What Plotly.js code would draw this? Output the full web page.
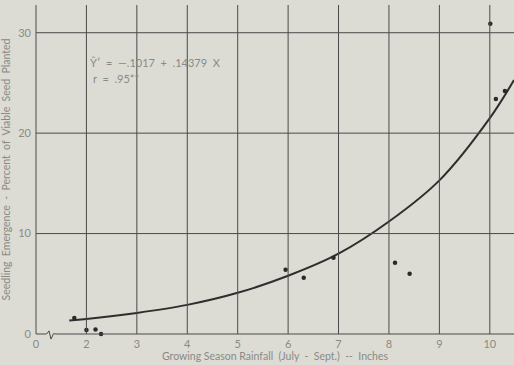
<!DOCTYPE html>
<html><head><meta charset="utf-8">
<script src="https://cdn.plot.ly/plotly-3.0.1.min.js"></script>
<style>html,body{margin:0;padding:0;background:#dcdcd4;}#chart{width:514px;height:365px;}</style>
</head><body><div id="chart"></div>
<script>
// Observed points (rainfall inches, emergence %)
const rainfall = [1.76, 2.00, 2.18, 2.29, 5.95, 6.31, 6.90, 8.12, 8.41, 10.01, 10.12, 10.30];
const emergence = [1.6, 0.4, 0.45, 0.0, 6.4, 5.6, 7.6, 7.1, 6.0, 30.9, 23.4, 24.2];
// Fitted curve
const curveX = [1.66, 2, 3, 4, 5, 6, 7, 8, 9, 10, 10.48];
const curveY = [1.35, 1.5, 2.1, 2.9, 4.1, 5.8, 8.0, 11.2, 15.3, 21.5, 25.3];
// Tick labels (axis is broken between 0 and 2)
const xTickVals = [1, 2, 3, 4, 5, 6, 7, 8, 9, 10];
const xTickText = ["0", "2", "3", "4", "5", "6", "7", "8", "9", "10"];
const yTickVals = [0, 10, 20, 30];
const yTickText = ["0", "10", "20", "30"];

const txt = '#8a8a84';
const fnt = {family: 'Lato, "Noto Sans", sans-serif', size: 11, color: txt};
const titleFnt = {family: 'Lato, "Noto Sans", sans-serif', size: 10.5, color: txt};
const gridCol = '#4a4a4a';

const traces = [
  {x: curveX, y: curveY, mode: 'lines', type: 'scatter', line: {color: '#2e2e2e', width: 2, shape: 'spline'}, hoverinfo: 'skip', cliponaxis: false},
  {x: rainfall, y: emergence, mode: 'markers', type: 'scatter', marker: {color: '#2a2a2a', size: 4.5}, cliponaxis: false}
];

const shapes = [];
xTickVals.slice(1).forEach(v => shapes.push({type: 'line', xref: 'x', yref: 'paper', x0: v, x1: v, y0: 0, y1: 1, line: {color: gridCol, width: 1}}));
yTickVals.slice(1).forEach(v => shapes.push({type: 'line', xref: 'paper', yref: 'y', x0: 0, x1: 1, y0: v, y1: v, line: {color: gridCol, width: 1}}));
shapes.push({type: 'line', xref: 'paper', yref: 'paper', x0: 0, x1: 0, y0: 0, y1: 1, line: {color: gridCol, width: 1}});
// x axis line with break symbol (paper coords so it is not clipped)
shapes.push({type: 'path', xref: 'paper', yref: 'paper',
  path: 'M 0 0 L 0.022 0 L 0.0272 0.0095 L 0.0314 -0.0155 L 0.0366 0.001 L 0.0418 0 L 1 0',
  line: {color: gridCol, width: 1}});

const layout = {
  width: 514, height: 365,
  margin: {l: 36, r: 0, t: 5, b: 31},
  paper_bgcolor: '#dcdcd4', plot_bgcolor: '#dcdcd4',
  showlegend: false,
  font: fnt,
  xaxis: {range: [1, 10.48], tickvals: xTickVals, ticktext: xTickText, showgrid: false, zeroline: false, showline: false, ticks: '', ticklabelstandoff: 2,
    title: {text: 'Growing Season Rainfall  (July  -  Sept.)  --  Inches', font: titleFnt, standoff: 2}},
  yaxis: {range: [0, 32.76], tickvals: yTickVals, ticktext: yTickText, showgrid: false, zeroline: false, showline: false, ticks: '', ticklabelstandoff: 4,
    title: {text: 'Seedling  Emergence  -  Percent  of  Viable  Seed  Planted', font: titleFnt, standoff: 7}},
  shapes: shapes,
  annotations: [
    {xref: 'x', yref: 'y', x: 2.03, y: 27.0, xanchor: 'left', yanchor: 'middle', showarrow: false, text: 'Ŷ′  =  —.1017  +  .14379  X', font: fnt},
    {xref: 'x', yref: 'y', x: 2.09, y: 25.4, xanchor: 'left', yanchor: 'middle', showarrow: false, text: 'r  =  .95**', font: fnt}
  ]
};
Plotly.newPlot('chart', traces, layout, {displayModeBar: false, staticPlot: true});
</script></body></html>
